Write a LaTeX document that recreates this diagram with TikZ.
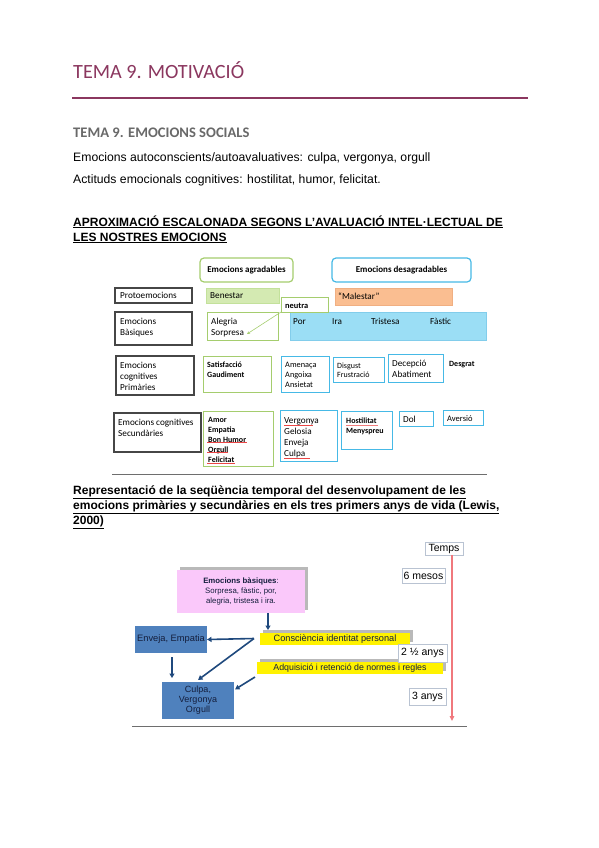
\documentclass[tikz,border=0pt]{standalone}
\usepackage{fontspec}
\setmainfont{Liberation Sans}
\newfontfamily\calib{Carlito}
\usetikzlibrary{arrows.meta,calc}
\definecolor{maroon}{RGB}{139,55,95}
\definecolor{grayhead}{RGB}{105,105,105}
\definecolor{gbord}{RGB}{165,205,110}
\definecolor{bbord}{RGB}{70,185,230}
\definecolor{benfill}{RGB}{212,234,178}
\definecolor{benbord}{RGB}{195,225,155}
\definecolor{malfill}{RGB}{250,190,145}
\definecolor{malbord}{RGB}{240,175,130}
\definecolor{porfill}{RGB}{155,222,245}
\definecolor{porbord}{RGB}{130,205,235}
\definecolor{labbord}{RGB}{70,70,70}
\definecolor{redul}{RGB}{235,70,70}
\definecolor{pinkfill}{RGB}{250,200,250}
\definecolor{shadowg}{RGB}{185,185,185}
\definecolor{navy}{RGB}{31,73,125}
\definecolor{bluefill}{RGB}{79,129,189}
\definecolor{textnavy}{RGB}{20,30,60}
\definecolor{tbord}{RGB}{185,195,210}
\definecolor{redline}{RGB}{240,120,125}
\definecolor{rulegray}{RGB}{110,110,110}
\tikzset{
  box/.style={anchor=north west, inner sep=0pt, outer sep=0pt},
  lab/.style={box, draw=labbord, line width=1.3pt},
  gbox/.style={box, draw=gbord, line width=1pt, fill=white},
  bbox/.style={box, draw=bbord, line width=1pt},
  txt/.style={anchor=base west, inner sep=0pt, align=left},
  dA/.style={font=\calib\fontsize{9.2}{11}\selectfont},
  dB/.style={font=\calib\bfseries\fontsize{8}{10}\selectfont},
  dS/.style={font=\calib\fontsize{8.3}{10}\selectfont},
  sbox/.style={box, draw=tbord, line width=0.8pt, fill=white, font=\fontsize{10.5}{12}\selectfont},
  arr/.style={navy, line width=1.6pt, -{Triangle[length=4.5pt,width=5pt]}},
  ul/.style={redul, line width=0.9pt},
  body/.style={anchor=base west, inner sep=0pt, font=\fontsize{12.2}{14}\selectfont},
  ttl/.style={anchor=base west, inner sep=0pt, font=\bfseries\fontsize{12}{14}\selectfont},
}
\begin{document}
\begin{tikzpicture}[x=1pt,y=-1pt]
\useasboundingbox (0,0) rectangle (599,848);
\fill[white] (0,0) rectangle (599,848);
% header
\node[anchor=base west, inner sep=0pt, text=maroon, font=\calib\fontsize{20.2}{24}\selectfont] (h1) at (73,78.5) {TEMA 9. MOTIVACIÓ};
\draw[maroon, line width=1.5pt] (72,98) -- (528,98);
\node[anchor=base west, inner sep=0pt, text=grayhead, font=\calib\bfseries\fontsize{14.6}{16}\selectfont] (h2) at (73,138) {TEMA 9. EMOCIONS SOCIALS};
\node[body] (l1) at (73,161.5) {Emocions autoconscients/autoavaluatives: culpa, vergonya, orgull};
\node[body] (l2) at (73,183.5) {Actituds emocionals cognitives: hostilitat, humor, felicitat.};
\node[ttl] (t1a) at (73,226) {\underline{APROXIMACIÓ ESCALONADA SEGONS L’AVALUACIÓ INTEL·LECTUAL DE}};
\node[ttl] (t1b) at (73,241) {\underline{LES NOSTRES EMOCIONS}};

% ---------- diagram 1 ----------
\node[box, draw=gbord, line width=1.2pt, rounded corners=4pt, minimum width=93pt, minimum height=24pt, font=\calib\bfseries\fontsize{9}{10}\selectfont] (agr) at (200,258) {Emocions agradables};
\node[box, draw=bbord, line width=1.2pt, rounded corners=4pt, minimum width=139pt, minimum height=24pt, font=\calib\bfseries\fontsize{9}{10}\selectfont] (des) at (332,258) {Emocions desagradables};

\node[lab, minimum width=77pt, minimum height=15pt] (proto) at (115,288) {};
\node[box, fill=benfill, draw=benbord, line width=0.6pt, minimum width=73pt, minimum height=15pt] (ben) at (206,288) {};
\node[box, fill=malfill, draw=malbord, line width=0.6pt, minimum width=117pt, minimum height=17pt] (mal) at (335,288) {};
\node[lab, minimum width=77pt, minimum height=33pt] (bas) at (115,312) {};
\node[gbox, minimum width=71pt, minimum height=28pt] (aleg) at (207,312) {};
\node[box, fill=porfill, draw=porbord, line width=0.8pt, minimum width=196pt, minimum height=28pt] (por) at (290,312) {};
\node[gbox, minimum width=47pt, minimum height=15pt] (neu) at (281,297) {};

\node[lab, minimum width=78pt, minimum height=39pt] (prim) at (116,356) {};
\node[gbox, minimum width=68pt, minimum height=36pt] (satis) at (203,356) {};
\node[bbox, minimum width=48pt, minimum height=36pt] (amen) at (281,356) {};
\node[bbox, minimum width=51pt, minimum height=25pt] (disg) at (333,357) {};
\node[bbox, minimum width=55pt, minimum height=28pt] (decep) at (388,354) {};

\node[lab, minimum width=87pt, minimum height=39pt] (sec) at (114,413) {};
\node[gbox, minimum width=70pt, minimum height=55pt] (amor) at (203,411) {};
\node[bbox, minimum width=57pt, minimum height=51pt] (verg) at (280,410) {};
\node[bbox, minimum width=51pt, minimum height=38pt] (host) at (341,411) {};
\node[bbox, minimum width=34pt, minimum height=15pt] (dol) at (399,411) {};
\node[bbox, minimum width=40pt, minimum height=15pt] (avers) at (443,410) {};

% texts diagram 1 (multi-line nodes: base = last line)
\node[txt, dA] (tproto) at (120,298.5) {Protoemocions};
\node[txt, dA] (tben) at (210,298.5) {Benestar};
\node[txt, dA] (tmal) at (338,299.5) {“Malestar”};
\node[txt, font=\calib\bfseries\fontsize{8.4}{10}\selectfont] (tneu) at (285,308) {neutra};
\node[txt, dA] (tbas) at (120,335.5) {Emocions\\Bàsiques};
\node[txt, dA] (taleg) at (211,335.5) {Alegria\\Sorpresa};
\node[txt, dA] (tpor) at (293,324.5) {Por};
\node[txt, dA] (tira) at (332,324.5) {Ira};
\node[txt, dA] (ttri) at (371,324.5) {Tristesa};
\node[txt, dA] (tfas) at (430,324.5) {Fàstic};
\node[txt, dA] (tprim) at (120,390.5) {Emocions\\cognitives\\Primàries};
\node[txt, dB] (tsatis) at (207,377) {Satisfacció\\Gaudiment};
\node[txt, dS] (tamen) at (285,387.5) {Amenaça\\Angoixa\\Ansietat};
\node[txt, font=\calib\fontsize{8}{9.5}\selectfont] (tdisg) at (337,377.5) {Disgust\\Frustració};
\node[txt, dA] (tdecep) at (392,377.5) {Decepció\\Abatiment};
\node[txt, dB] (tdesg) at (449,366) {Desgrat};
\node[txt, dA] (tsec) at (118,436.5) {Emocions cognitives\\Secundàries};
\node[txt, dB] (tamor) at (208,462) {Amor\\Empatia\\Bon Humor\\Orgull\\Felicitat};
\node[txt, dA] (tverg) at (284,456.5) {Vergonya\\Gelosia\\Enveja\\Culpa};
\node[txt, dB] (thost) at (346,433) {Hostilitat\\Menyspreu};
\node[txt, dA] (tdol) at (403,422) {Dol};
\node[txt, font=\calib\fontsize{8.5}{10}\selectfont] (tavers) at (447,421) {Aversió};

% red underlines
\draw[ul] (284,425.5) -- (313,425.5);
\draw[ul] (284,458) -- (310,458);
\draw[ul] (207,442.5) -- (247,442.5);
\draw[ul] (207,452.5) -- (228,452.5);
\draw[ul] (207,463) -- (235,463);
\draw[ul, redul!70] (346,425) -- (378,425);

% green arrow neutra -> Sorpresa
\coordinate (sorp) at (247,334);
\draw[gbord, line width=0.6pt, -{Stealth[length=3pt,width=3pt]}] (neu.south west) -- (sorp);

\draw[rulegray, line width=0.9pt] (112,474) -- (487,474);

% title 2
\node[ttl] (t2a) at (73,494) {\underline{Representació de la seqüència temporal del desenvolupament de les}};
\node[ttl] (t2b) at (73,509.5) {\underline{emocions primàries y secundàries en els tres primers anys de vida (Lewis,}};
\node[ttl] (t2c) at (73,524.5) {\underline{2000)}};

% ---------- diagram 2 ----------
\fill[shadowg] (180,567) rectangle (308,610);
\node[box, fill=pinkfill, minimum width=128pt, minimum height=43pt, align=center, text=textnavy, font=\fontsize{7.8}{10}\selectfont] (pink) at (177,570) {\textbf{Emocions bàsiques}:\\Sorpresa, fàstic, por,\\alegria, tristesa i ira.};
\fill[shadowg] (263,630) rectangle (413,642);
\fill[shadowg] (260,659) rectangle (446,671);
\node[box, fill=yellow, minimum width=150pt, minimum height=12pt, text=textnavy, font=\fontsize{9.2}{10}\selectfont] (cons) at (260,633) {Consciència identitat personal};
\node[box, fill=yellow, minimum width=186pt, minimum height=12pt, text=textnavy, font=\fontsize{8.8}{10}\selectfont] (adq) at (257,662) {Adquisició i retenció de normes i regles};
\node[box, fill=bluefill, minimum width=72pt, minimum height=27pt, text=textnavy, font=\fontsize{9.3}{10}\selectfont] (env) at (135,626) {Enveja, Empatia};
\node[box, fill=bluefill, minimum width=72pt, minimum height=37pt, align=center, text=textnavy, font=\fontsize{9}{10}\selectfont] (culpa) at (162,682) {Culpa,\\Vergonya\\Orgull};

\node[sbox, minimum width=38pt, minimum height=13pt] (temps) at (425,542) {Temps};
\node[sbox, minimum width=43pt, minimum height=15pt] (mesos) at (402,568) {6 mesos};
\node[sbox, minimum width=49pt, minimum height=18pt] (anys2) at (398,644) {2 ½ anys};
\node[sbox, minimum width=37pt, minimum height=17pt] (anys3) at (409,688) {3 anys};
\coordinate (tend) at (452,721);
\draw[redline, line width=1.4pt, -{Triangle[length=5pt,width=4.5pt]}] (temps.south -| tend) -- (tend);

% arrows
\coordinate (px) at (268,0);
\coordinate (ex) at (172,0);
\coordinate (s1) at (254,638.5);
\coordinate (s2) at (255,677);
\draw[arr] (pink.south -| px) -- ($(cons.north -| px)+(0,-3)$);
\draw[arr] (s1) -- (env.east);
\draw[arr] (s1) -- ($(culpa.north)+(0,-2)$);
\draw[arr] (s2) -- ($(culpa.north east)!0.2!(culpa.south east)+(1,0)$);
\draw[arr, shorten <=4pt, shorten >=4pt] (env.south -| ex) -- (culpa.north -| ex);

\draw[rulegray, line width=0.9pt] (132,726) -- (467,726);
\end{tikzpicture}
\end{document}
